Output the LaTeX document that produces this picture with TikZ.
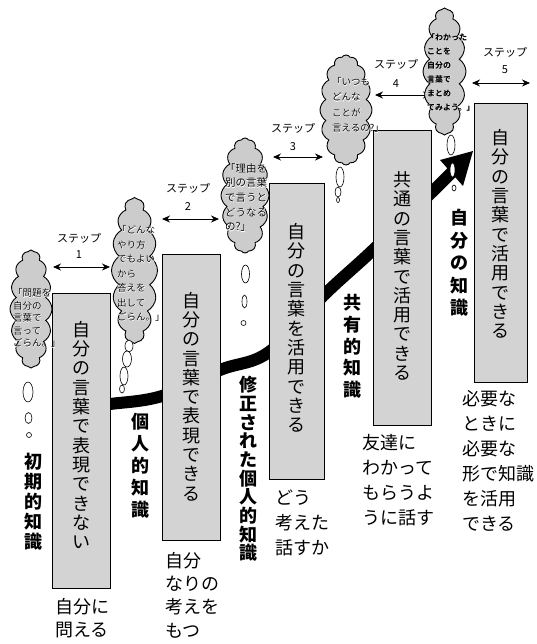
\documentclass[tikz,border=0pt]{standalone}
\usepackage{fontspec}
\setmainfont{Noto Sans CJK JP}
\newfontfamily\halofont{Noto Sans CJK JP}[FakeBold=5]
\usetikzlibrary{shapes.symbols,arrows.meta}
\definecolor{boxg}{RGB}{211,211,211}
\definecolor{cloudg}{RGB}{204,204,204}
\newcommand\halo[1]{\rlap{\textcolor{white}{\halofont #1}}#1}
\begin{document}
\begin{tikzpicture}[x=1pt,y=-1pt,
  boxst/.style={draw=black,fill=boxg,line width=0.8pt,inner sep=0pt},
  vtxt/.style={align=center,inner sep=0pt,font=\fontsize{18}{19.3}\selectfont},
  vbold/.style={align=center,inner sep=0pt,font=\fontsize{18}{#1}\selectfont\bfseries},
  ltxt/.style={align=left,anchor=west,inner sep=0pt,font=\fontsize{18}{#1}\selectfont},
  ctxt/.style={align=left,anchor=west,inner sep=0pt},
  cloudst/.style={cloud,cloud puffs=16,cloud puff arc=115,cloud ignores aspect,draw=black,fill=cloudg,line width=0.9pt,inner sep=0pt},
  bubst/.style={draw=black,fill=white,line width=0.6pt},
  steparr/.style={line width=0.9pt,{Stealth[length=8pt,width=7pt]}-{Stealth[length=8pt,width=7pt]}},
  stepst/.style={inner sep=0pt,font=\fontsize{11}{12}\selectfont}]
\useasboundingbox (0,0) rectangle (537,644);
% black band
\draw[line width=12pt] plot[smooth,tension=0.6] coordinates {(80,407) (110,404) (162,396) (220,370) (269,352) (324,295) (373,250) (431,193) (452,172)};
\fill (473,151) -- (440,160) -- (463,186) -- cycle;
% boxes
\node[boxst,minimum width=58pt,minimum height=295pt] (b1) at (81,440.5) {};
\node[boxst,minimum width=58pt,minimum height=286pt] (b2) at (191,397) {};
\node[boxst,minimum width=55pt,minimum height=296pt] (b3) at (296.5,331) {};
\node[boxst,minimum width=58pt,minimum height=295pt] (b4) at (402,277.5) {};
\node[boxst,minimum width=53pt,minimum height=279pt] (b5) at (500.5,242.5) {};
\node[vtxt] (b1t) at (81,435) {自\\分\\の\\言\\葉\\で\\表\\現\\で\\き\\な\\い};
\node[vtxt] (b2t) at (191,396.5) {自\\分\\の\\言\\葉\\で\\表\\現\\で\\き\\る};
\node[vtxt] (b3t) at (296.5,328) {自\\分\\の\\言\\葉\\を\\活\\用\\で\\き\\る};
\node[vtxt] (b4t) at (402,276) {共\\通\\の\\言\\葉\\で\\活\\用\\で\\き\\る};
\node[vtxt] (b5t) at (500.5,234) {自\\分\\の\\言\\葉\\で\\活\\用\\で\\き\\る};
% step arrows
\coordinate (s1l) at (53,267); \coordinate (s1r) at (110,267);
\coordinate (s2l) at (162,219); \coordinate (s2r) at (219,219);
\coordinate (s3l) at (273,157); \coordinate (s3r) at (323,157);
\coordinate (s4l) at (375,95); \coordinate (s4r) at (431,95);
\coordinate (s5l) at (472,83); \coordinate (s5r) at (530,83);
\draw[steparr] (s1l) -- (s1r);
\draw[steparr] (s2l) -- (s2r);
\draw[steparr] (s3l) -- (s3r);
\draw[steparr] (s4l) -- (s4r);
\draw[steparr] (s5l) -- (s5r);
\node[stepst] (st1) at (79,238) {ステップ}; \node[stepst] (sn1) at (79,255) {1};
\node[stepst] (st2) at (188,188) {ステップ}; \node[stepst] (sn2) at (188,207) {2};
\node[stepst] (st3) at (293,128) {ステップ}; \node[stepst] (sn3) at (293,147) {3};
\node[stepst] (st4) at (396,64) {ステップ}; \node[stepst] (sn4) at (396,84) {4};
\node[stepst] (st5) at (505,52) {ステップ}; \node[stepst] (sn5) at (505,70) {5};
% clouds
\node[cloudst,minimum width=42pt,minimum height=118pt] (c1) at (31,309) {};
\node[cloudst,minimum width=46pt,minimum height=146pt] (c2) at (134.5,270.5) {};
\node[cloudst,minimum width=48pt,minimum height=115pt] (c3) at (245,195.5) {};
\node[cloudst,minimum width=52pt,minimum height=110pt] (c4) at (346,110) {};
\node[cloudst,minimum width=43pt,minimum height=127pt] (c5) at (444.5,71.5) {};
% bubbles
\draw[bubst] (28,392) ellipse [x radius=5pt,y radius=10pt];
\draw[bubst] (28.5,418) ellipse [x radius=3.5pt,y radius=5.5pt];
\draw[bubst] (29,435) circle [radius=2.5pt];
\draw[bubst] (129,346) ellipse [x radius=4pt,y radius=6pt];
\draw[bubst] (127,359) ellipse [x radius=4.5pt,y radius=8pt];
\draw[bubst] (124,376) ellipse [x radius=4pt,y radius=9pt];
\draw[bubst] (122,389) ellipse [x radius=2.5pt,y radius=4pt];
\draw[bubst] (245.5,274) ellipse [x radius=4pt,y radius=9pt];
\draw[bubst] (244.5,301.5) ellipse [x radius=2.5pt,y radius=6.5pt];
\draw[bubst] (243.5,323) circle [radius=2.5pt];
\draw[bubst] (340,177) ellipse [x radius=4pt,y radius=10pt];
\draw[bubst] (338,192) ellipse [x radius=3pt,y radius=5pt];
\draw[bubst] (338,200) ellipse [x radius=1.5pt,y radius=2.5pt];
\draw[bubst] (451,145) ellipse [x radius=4pt,y radius=10pt];
\draw[bubst] (452.5,170) ellipse [x radius=2.5pt,y radius=7pt];
\draw[bubst] (454,188) ellipse [x radius=2pt,y radius=3pt];
% cloud texts
\node[ctxt,font=\fontsize{9.5}{12.5}\selectfont] (c1t) at (13,318) {\halo{「問題を}\\\halo{自分の}\\\halo{言葉で}\\\halo{言って}\\\halo{ごらん。」}};
\node[ctxt,font=\fontsize{9.5}{14.5}\selectfont] (c2t) at (117,273.5) {\halo{「どんな}\\\halo{やり方}\\\halo{でもよい}\\\halo{から}\\\halo{答えを}\\\halo{出して}\\\halo{ごらん。」}};
\node[ctxt,font=\fontsize{10.5}{14.7}\selectfont] (c3t) at (225,197.5) {\halo{「理由を}\\\halo{別の言葉}\\\halo{で言うと}\\\halo{どうなる}\\\halo{の?」}};
\node[ctxt,font=\fontsize{9.5}{15.3}\selectfont] (c4t) at (332,105) {\halo{「いつも}\\\halo{どんな}\\\halo{ことが}\\\halo{言えるの?」}};
\node[ctxt,font=\fontsize{8}{14}\selectfont\bfseries] (c5t) at (427,72) {\halo{「わかった}\\\halo{ことを}\\\halo{自分の}\\\halo{言葉で}\\\halo{まとめ}\\\halo{てみよう。」}};
% bold vertical labels
\node[vbold=20] (l1) at (33,502) {初\\期\\的\\知\\識};
\node[vbold=22] (l2) at (140,466) {個\\人\\的\\知\\識};
\node[vbold=18.7] (l3) at (248,469) {修\\正\\さ\\れ\\た\\個\\人\\的\\知\\識};
\node[vbold=21.7] (l4) at (352,346.5) {共\\有\\的\\知\\識};
\node[vbold=22.5] (l5) at (459,263) {自\\分\\の\\知\\識};
% labels below boxes
\node[ltxt=23] (u1) at (55,618.5) {自分に\\問える};
\node[ltxt=23.3] (u2) at (165,595) {自分\\なりの\\考えを\\もつ};
\node[ltxt=25] (u3) at (275,523) {どう\\考えた\\話すか};
\node[ltxt=25] (u4) at (362,480.5) {友達に\\わかって\\もらうよ\\うに話す};
\node[ltxt=25] (u5) at (462,460.5) {必要な\\ときに\\必要な\\形で知識\\を活用\\できる};
\end{tikzpicture}
\end{document}
